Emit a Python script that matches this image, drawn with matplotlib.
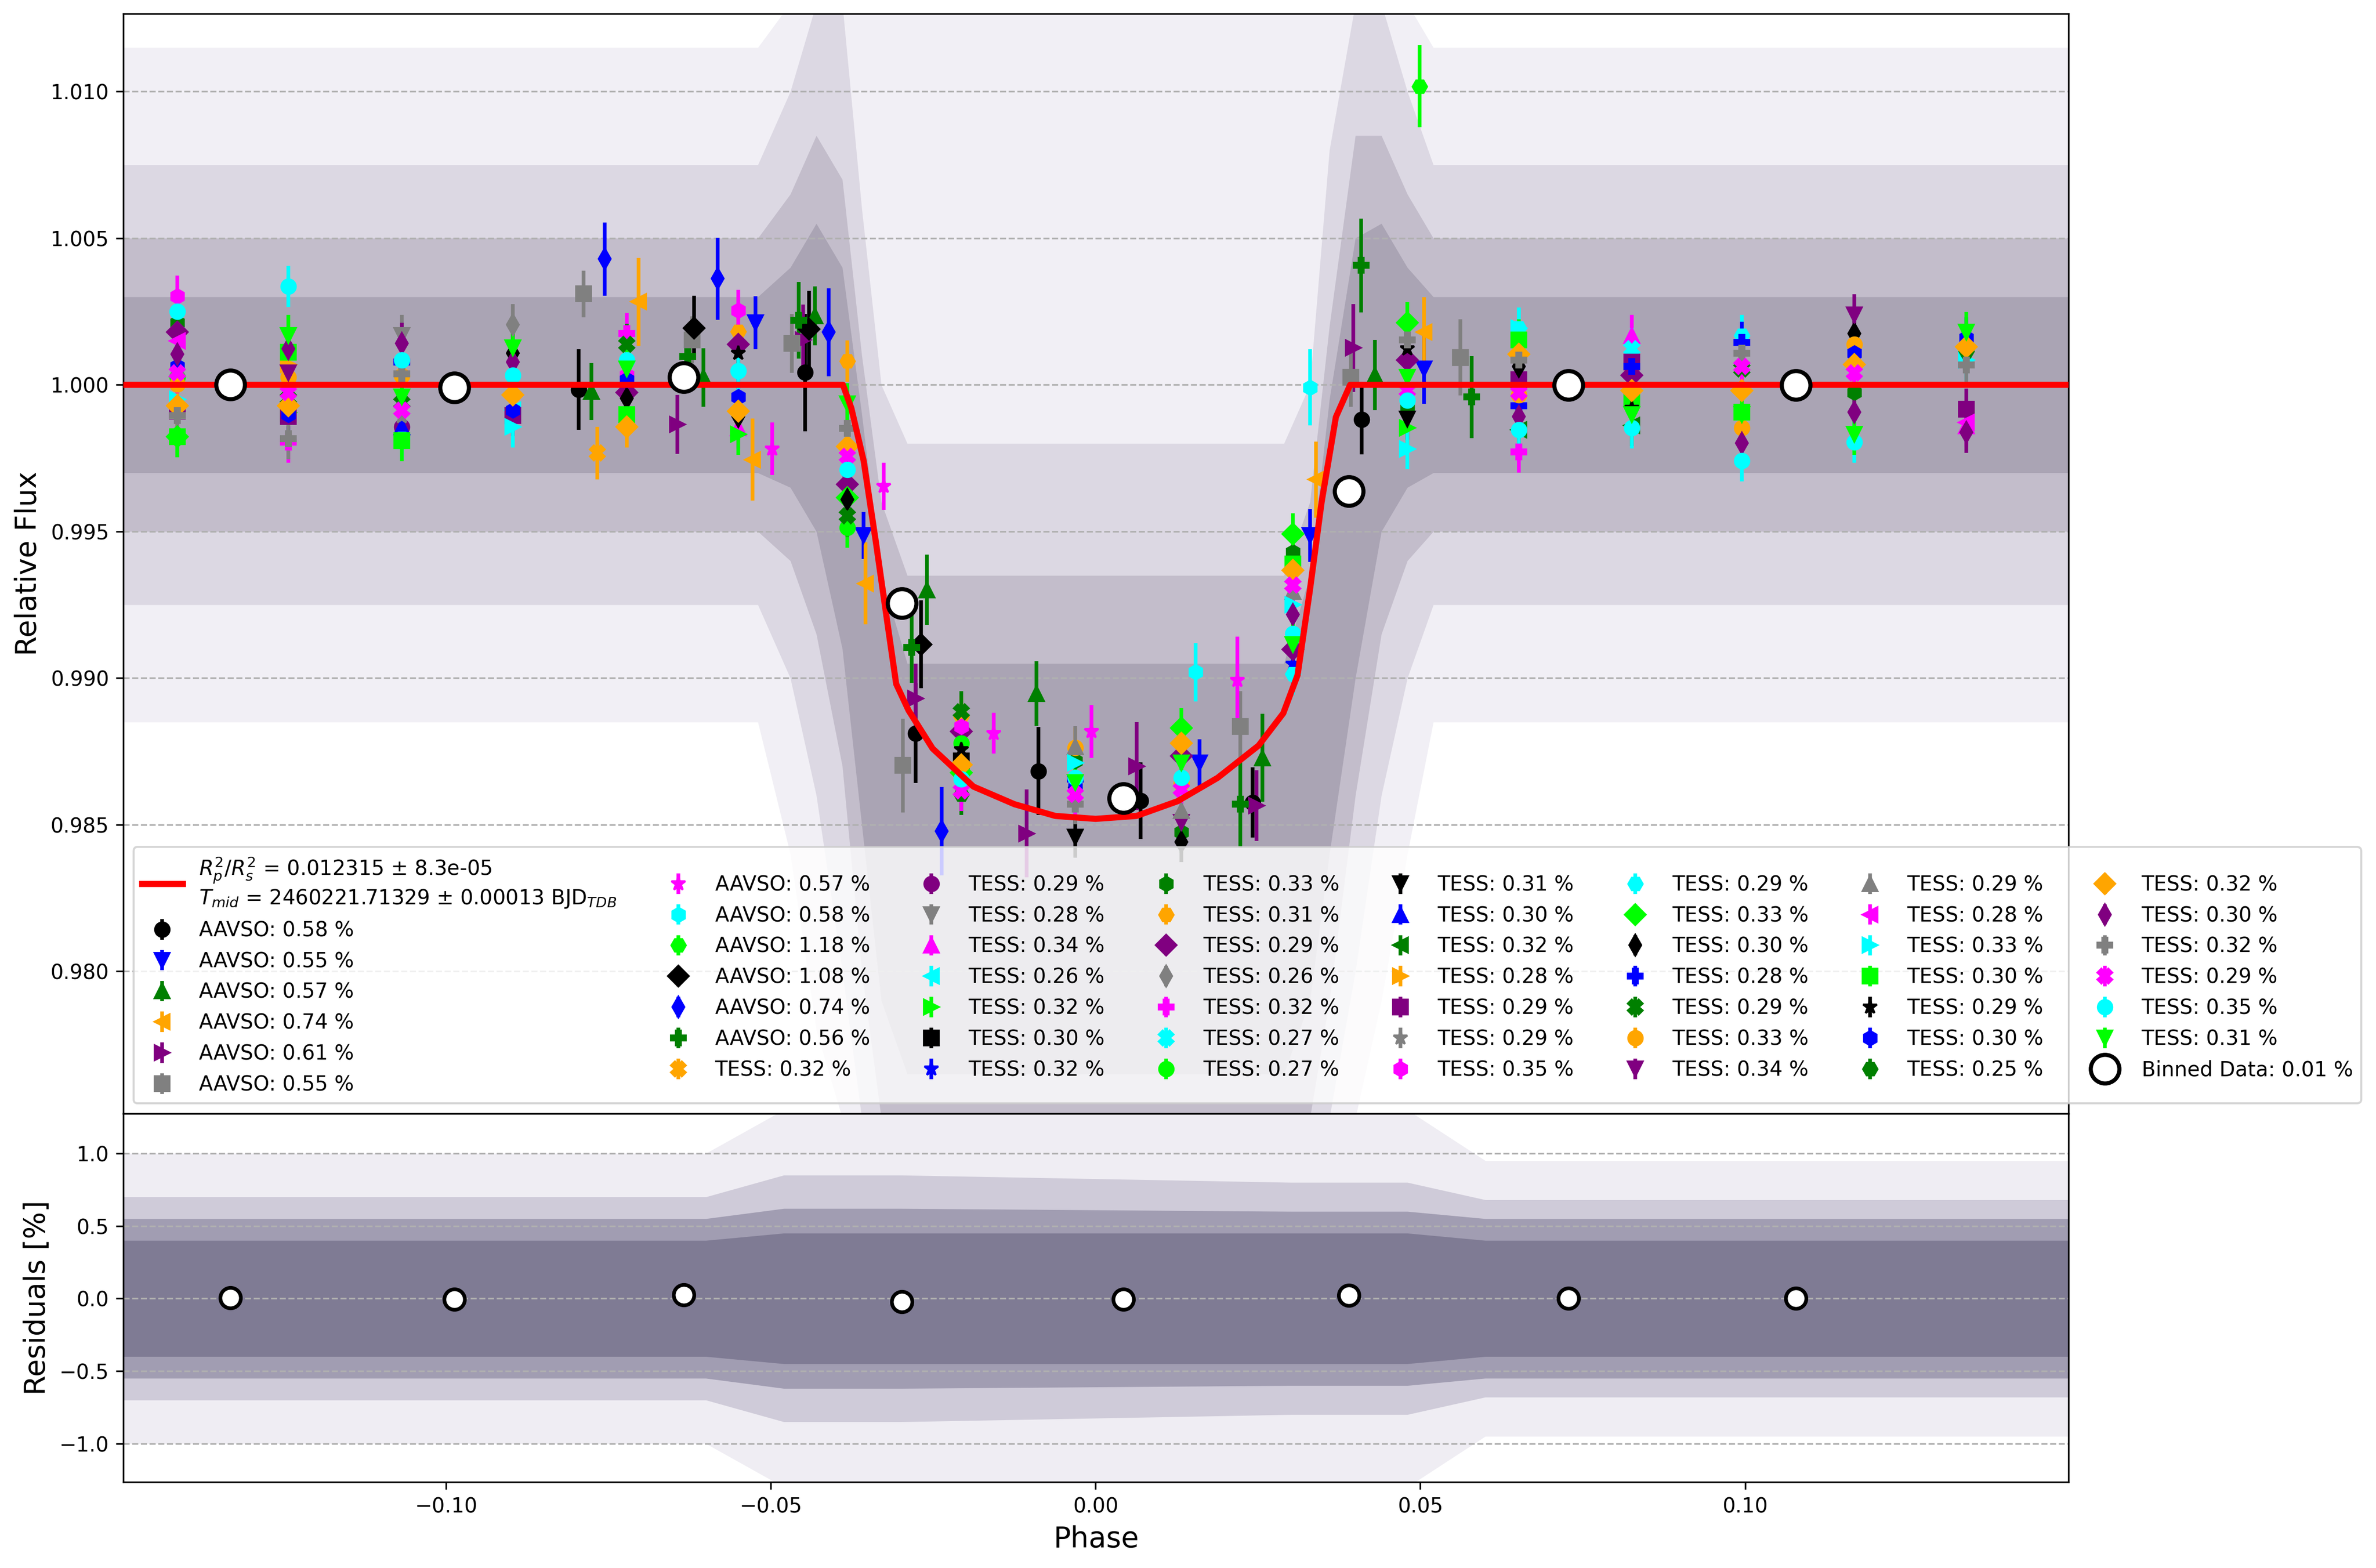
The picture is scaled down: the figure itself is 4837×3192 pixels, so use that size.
import matplotlib
matplotlib.use("Agg")
import matplotlib.pyplot as plt
from matplotlib.ticker import FormatStrFormatter, MultipleLocator

# ---------------- data ----------------
COLORS = ['black', 'blue', 'green', 'orange', 'purple', 'grey', 'magenta', 'cyan', 'lime']
MARKERS = ['o', 'v', '^', '<', '>', 's', '*', 'h', 'H', 'D', 'd', 'P', 'X']

DATASET_LABELS = [
    "AAVSO: 0.58 %", "AAVSO: 0.55 %", "AAVSO: 0.57 %", "AAVSO: 0.74 %", "AAVSO: 0.61 %", "AAVSO: 0.55 %",
    "AAVSO: 0.57 %", "AAVSO: 0.58 %", "AAVSO: 1.18 %", "AAVSO: 1.08 %", "AAVSO: 0.74 %", "AAVSO: 0.56 %",
    "TESS: 0.32 %",
    "TESS: 0.29 %", "TESS: 0.28 %", "TESS: 0.34 %", "TESS: 0.26 %", "TESS: 0.32 %", "TESS: 0.30 %", "TESS: 0.32 %",
    "TESS: 0.33 %", "TESS: 0.31 %", "TESS: 0.29 %", "TESS: 0.26 %", "TESS: 0.32 %", "TESS: 0.27 %", "TESS: 0.27 %",
    "TESS: 0.31 %", "TESS: 0.30 %", "TESS: 0.32 %", "TESS: 0.28 %", "TESS: 0.29 %", "TESS: 0.29 %", "TESS: 0.35 %",
    "TESS: 0.29 %", "TESS: 0.33 %", "TESS: 0.30 %", "TESS: 0.28 %", "TESS: 0.29 %", "TESS: 0.33 %", "TESS: 0.34 %",
    "TESS: 0.29 %", "TESS: 0.28 %", "TESS: 0.33 %", "TESS: 0.30 %", "TESS: 0.29 %", "TESS: 0.30 %", "TESS: 0.25 %",
    "TESS: 0.32 %", "TESS: 0.30 %", "TESS: 0.32 %", "TESS: 0.29 %", "TESS: 0.35 %", "TESS: 0.31 %",
]

MODEL_LABEL = ("$R^{2}_{p}/R^{2}_{s}$ = 0.012315 ± 8.3e-05\n"
               "$T_{mid}$ = 2460221.71329 ± 0.00013 BJD$_{TDB}$")
BINNED_LABEL = "Binned Data: 0.01 %"

# transit model
MODEL_PHASE = [-0.1497, -0.0389, -0.0376, -0.0357, -0.0338, -0.0320, -0.0307, -0.0288, -0.0251,
               -0.0188, -0.0125, -0.0062, 0.0000, 0.0063, 0.0126, 0.0188, 0.0251, 0.0289,
               0.0311, 0.0330, 0.0348, 0.0370, 0.0392, 0.1498]
MODEL_FLUX = [1.0000, 1.0000, 0.9992, 0.9974, 0.9946, 0.9918, 0.9898, 0.9889, 0.9876,
              0.9863, 0.9857, 0.9853, 0.9852, 0.9853, 0.9858, 0.9866, 0.9877, 0.9888,
              0.9901, 0.9930, 0.9960, 0.9989, 1.0000, 1.0000]

# overall binned data (white circles)
BIN_PHASE = [-0.1332, -0.0987, -0.0634, -0.0298, 0.0043, 0.0390, 0.0728, 0.1078]
BIN_FLUX = [1.0000, 0.9999, 1.00025, 0.99256, 0.98590, 0.99637, 0.99999, 0.99999]
BIN_RESID = [0.006, -0.006, 0.024, -0.022, -0.006, 0.022, 0.001, 0.001]

# per-dataset binned TESS points: phase of each bin cluster, then (dataset, flux)
TESS_BIN_PHASE = [-0.1414, -0.1243, -0.1068, -0.0897, -0.0722, -0.0550, -0.0382, -0.0207, -0.0031,
                  0.0132, 0.0304, 0.0480, 0.0652, 0.0826, 0.0995, 0.1168, 0.1341]
TESS_BIN_POINTS = [
    [(33, 1.00302), (52, 1.00250), (20, 1.00212), (22, 1.00179), (42, 1.00149), (49, 1.00104), (46, 1.00063),
     (41, 1.00055), (51, 1.00040), (26, 1.00025), (39, 1.00003), (43, 0.99951), (48, 0.99928), (31, 0.99910),
     (50, 0.99895), (44, 0.99823), (35, 0.99823)],
    [(52, 1.00336), (53, 1.00168), (49, 1.00123), (44, 1.00111), (30, 1.00070), (40, 1.00040), (39, 1.00025),
     (51, 0.99973), (38, 0.99954), (48, 0.99928), (17, 0.99905), (46, 0.99898), (31, 0.99891), (50, 0.99816),
     (24, 0.99805)],
    [(14, 1.00168), (49, 1.00141), (52, 1.00085), (37, 1.00078), (50, 1.00037), (39, 1.00030), (53, 0.99958),
     (38, 0.99939), (51, 0.99913), (32, 0.99891), (28, 0.99857), (13, 0.99857), (34, 0.99816), (44, 0.99809)],
    [(23, 1.00205), (53, 1.00126), (36, 1.00108), (49, 1.00078), (52, 1.00033), (48, 0.99966), (16, 0.99913),
     (46, 0.99913), (31, 0.99895), (43, 0.99857)],
    [(24, 1.00175), (38, 1.00138), (52, 1.00085), (34, 1.00078), (53, 1.00055), (33, 1.00033), (46, 1.00018),
     (22, 0.99973), (36, 0.99954), (44, 0.99898), (48, 0.99857)],
    [(33, 1.00254), (21, 1.00182), (22, 1.00138), (45, 1.00108), (52, 1.00048), (46, 0.99958), (48, 0.99910),
     (36, 0.99891), (15, 0.99853), (17, 0.99831)],
    [(21, 1.00081), (53, 0.99935), (50, 0.99851), (48, 0.99789), (51, 0.99756), (52, 0.99710), (49, 0.99700),
     (22, 0.99660), (35, 0.99615), (36, 0.99609), (38, 0.99553), (26, 0.99514)],
    [(38, 0.98885), (21, 0.98868), (33, 0.98835), (22, 0.98818), (26, 0.98778), (45, 0.98756), (18, 0.98717),
     (48, 0.98705), (35, 0.98677), (52, 0.98655), (51, 0.98616), (47, 0.98604)],
    [(41, 0.98767), (39, 0.98762), (20, 0.98717), (43, 0.98711), (52, 0.98661), (37, 0.98655), (53, 0.98644),
     (46, 0.98627), (45, 0.98620), (51, 0.98604), (50, 0.98571), (27, 0.98458)],
    [(35, 0.98829), (48, 0.98778), (22, 0.98734), (53, 0.98711), (52, 0.98661), (39, 0.98640), (51, 0.98621),
     (41, 0.98548), (40, 0.98509), (20, 0.98475), (36, 0.98442)],
    [(35, 0.99491), (20, 0.99430), (44, 0.99390), (21, 0.99374), (48, 0.99368), (51, 0.99317), (41, 0.99295),
     (43, 0.99250), (49, 0.99216), (52, 0.99151), (53, 0.99115), (22, 0.99098), (19, 0.99048), (34, 0.99014)],
    [(35, 1.00212), (50, 1.00153), (45, 1.00123), (22, 1.00085), (53, 1.00025), (51, 0.99981), (52, 0.99947),
     (20, 0.99921), (27, 0.99883), (17, 0.99853), (43, 0.99782)],
    [(34, 1.00194), (43, 1.00194), (44, 1.00153), (48, 1.00104), (50, 1.00085), (36, 1.00063), (31, 1.00018),
     (51, 0.99973), (39, 0.99966), (37, 0.99928), (49, 0.99891), (52, 0.99846), (29, 0.99846), (24, 0.99771)],
    [(15, 1.00168), (25, 1.00123), (31, 1.00078), (37, 1.00063), (22, 1.00033), (48, 0.99981), (44, 0.99951),
     (45, 0.99921), (53, 0.99898), (29, 0.99861), (52, 0.99853)],
    [(34, 1.00168), (37, 1.00145), (50, 1.00108), (51, 1.00063), (38, 1.00055), (48, 0.99981), (44, 0.99906),
     (53, 0.99898), (39, 0.99853), (49, 0.99801), (52, 0.99741)],
    [(40, 1.00239), (36, 1.00175), (39, 1.00138), (46, 1.00108), (48, 1.00070), (51, 1.00040), (20, 0.99973),
     (49, 0.99906), (53, 0.99831), (52, 0.99805)],
    [(53, 1.00179), (46, 1.00160), (48, 1.00130), (47, 1.00115), (43, 1.00085), (50, 1.00067), (31, 0.99917),
     (42, 0.99872), (15, 0.99860), (49, 0.99838)],
]
TESS_BIN_ERR = 0.0007

# per-dataset binned AAVSO points: (dataset, phase, flux, error)
AAVSO_POINTS = [
    (0, -0.0796, 0.99984, 0.00137), (2, -0.0776, 0.99977, 0.00097), (12, -0.0767, 0.99767, 0.0009),
    (5, -0.0788, 1.00310, 0.0008), (10, -0.0756, 1.00429, 0.00125), (3, -0.0704, 1.00283, 0.0015),
    (9, -0.0618, 1.00194, 0.0011), (5, -0.0621, 1.00153, 0.0008), (4, -0.0644, 0.99865, 0.0010),
    (2, -0.0604, 1.00025, 0.0010), (11, -0.0628, 1.00096, 0.0010), (10, -0.0582, 1.00362, 0.0014),
    (1, -0.0524, 1.00212, 0.0009), (3, -0.0528, 0.99745, 0.0014), (6, -0.0498, 0.99782, 0.0009),
    (11, -0.0457, 1.00220, 0.0013), (2, -0.0432, 1.00235, 0.0010), (9, -0.0441, 1.00190, 0.0013),
    (5, -0.0468, 1.00141, 0.0010), (4, -0.0450, 1.00153, 0.0012), (0, -0.0447, 1.00042, 0.0020),
    (10, -0.0411, 1.00179, 0.0015), (1, -0.0357, 0.99486, 0.0008), (3, -0.0354, 0.99323, 0.0014),
    (6, -0.0326, 0.99654, 0.0008), (11, -0.0283, 0.99104, 0.0012), (9, -0.0269, 0.99115, 0.0015),
    (2, -0.0260, 0.99301, 0.0012), (0, -0.0277, 0.98812, 0.0017), (4, -0.0277, 0.98930, 0.0012),
    (5, -0.0297, 0.98702, 0.0016), (10, -0.0237, 0.98478, 0.0015), (6, -0.0157, 0.98812, 0.0007),
    (2, -0.0091, 0.98947, 0.0011), (0, -0.0088, 0.98683, 0.0015), (4, -0.0106, 0.98470, 0.0015),
    (6, -0.0006, 0.98818, 0.0009), (0, 0.0069, 0.98582, 0.0013), (4, 0.0063, 0.98700, 0.0015),
    (1, 0.0160, 0.98711, 0.0008), (7, 0.0154, 0.99020, 0.0010), (6, 0.0218, 0.98992, 0.0015),
    (5, 0.0223, 0.98835, 0.0012), (11, 0.0223, 0.98571, 0.0015), (2, 0.0257, 0.98728, 0.0015),
    (4, 0.0248, 0.98565, 0.0012), (0, 0.0242, 0.98576, 0.0012), (1, 0.0330, 0.99486, 0.0009),
    (3, 0.0339, 0.99677, 0.0013), (7, 0.0330, 0.99991, 0.0013), (0, 0.0410, 0.99882, 0.0012),
    (4, 0.0397, 1.00126, 0.0015), (2, 0.0430, 1.00033, 0.0012), (5, 0.0393, 1.00025, 0.0010),
    (11, 0.0409, 1.00407, 0.0016), (8, 0.0499, 1.01018, 0.0014), (3, 0.0506, 1.00179, 0.0012),
    (1, 0.0506, 1.00055, 0.0012), (5, 0.0562, 1.00093, 0.0013), (11, 0.0579, 0.99958, 0.0014),
]

# envelopes of the faint unbinned data cloud (upper panel), four density levels
BG_PHASE = [-0.1497, -0.052, -0.047, -0.043, -0.039, -0.036, -0.033, -0.029, 0.029, 0.033, 0.036,
            0.040, 0.044, 0.048, 0.052, 0.1498]
BG_L1_LO = [0.9885, 0.9885, 0.9840, 0.9780, 0.9750, 0.9750, 0.9750, 0.9750, 0.9750, 0.9750, 0.9750,
            0.9750, 0.9790, 0.9840, 0.9885, 0.9885]
BG_L1_HI = [1.0115, 1.0115, 1.0130, 1.0130, 1.0130, 1.0130, 1.0130, 1.0130, 1.0130, 1.0130, 1.0130,
            1.0130, 1.0130, 1.0130, 1.0115, 1.0115]
BG_L2_LO = [0.9925, 0.9925, 0.9900, 0.9860, 0.9800, 0.9750, 0.9750, 0.9750, 0.9750, 0.9750, 0.9750,
            0.9800, 0.9860, 0.9900, 0.9925, 0.9925]
BG_L2_HI = [1.0075, 1.0075, 1.0100, 1.0130, 1.0130, 1.0060, 1.0000, 0.9980, 0.9980, 1.0000, 1.0080,
            1.0130, 1.0130, 1.0100, 1.0075, 1.0075]
BG_L3_LO = [0.9950, 0.9950, 0.9940, 0.9915, 0.9870, 0.9800, 0.9750, 0.9750, 0.9750, 0.9750, 0.9790,
            0.9860, 0.9915, 0.9940, 0.9950, 0.9950]
BG_L3_HI = [1.0050, 1.0050, 1.0065, 1.0085, 1.0070, 1.0010, 0.9960, 0.9935, 0.9935, 0.9960, 1.0020,
            1.0085, 1.0085, 1.0065, 1.0050, 1.0050]
BG_L4_LO = [0.9970, 0.9970, 0.9965, 0.9950, 0.9910, 0.9850, 0.9790, 0.9765, 0.9765, 0.9790, 0.9840,
            0.9900, 0.9950, 0.9965, 0.9970, 0.9970]
BG_L4_HI = [1.0030, 1.0030, 1.0040, 1.0055, 1.0040, 0.9990, 0.9935, 0.9905, 0.9905, 0.9935, 0.9995,
            1.0050, 1.0055, 1.0040, 1.0030, 1.0030]
BG_COLORS = ['#f1eff5', '#dcd8e3', '#c3bdcb', '#aaa4b4']

# envelopes of the residual cloud (lower panel), in %, four density levels (symmetric)
RES_PHASE = [-0.1497, -0.060, -0.048, -0.030, 0.030, 0.048, 0.060, 0.1498]
RES_R1 = [1.00, 1.00, 1.30, 1.30, 1.30, 1.30, 0.95, 0.95]
RES_R2 = [0.70, 0.70, 0.85, 0.85, 0.80, 0.80, 0.68, 0.68]
RES_R3 = [0.55, 0.55, 0.62, 0.62, 0.60, 0.60, 0.55, 0.55]
RES_R4 = [0.40, 0.40, 0.45, 0.45, 0.45, 0.45, 0.40, 0.40]
RES_COLORS = ['#efedf3', '#cfcbd9', '#a19db2', '#7f7b94']

# ---------------- figure ----------------
W, H, DPI = 4837, 3192, 300
fig = plt.figure(figsize=(W / DPI, H / DPI), dpi=DPI)
x0, x1 = 251 / W, 4211 / W
ytop, ysplit, ybot = 1 - 27.5 / H, 1 - 2267 / H, 1 - 3017 / H
ax = fig.add_axes([x0, ysplit, x1 - x0, ytop - ysplit])
axr = fig.add_axes([x0, ybot, x1 - x0, ysplit - ybot], sharex=ax)

# background cloud of unbinned data
bg_levels = [(BG_L1_LO, BG_L1_HI), (BG_L2_LO, BG_L2_HI), (BG_L3_LO, BG_L3_HI), (BG_L4_LO, BG_L4_HI)]
for k, ((lo, hi), col) in enumerate(zip(bg_levels, BG_COLORS)):
    ax.fill_between(BG_PHASE, lo, hi, color=col, lw=0, zorder=0.5 + 0.05 * k)

# gather per-dataset points
ds_ph = [[] for _ in DATASET_LABELS]
ds_fl = [[] for _ in DATASET_LABELS]
ds_er = [[] for _ in DATASET_LABELS]
for ph, pts in zip(TESS_BIN_PHASE, TESS_BIN_POINTS):
    for d, f in pts:
        ds_ph[d].append(ph)
        ds_fl[d].append(f)
        ds_er[d].append(TESS_BIN_ERR)
for d, ph, f, e in AAVSO_POINTS:
    ds_ph[d].append(ph)
    ds_fl[d].append(f)
    ds_er[d].append(e)

handles = []
model_line, = ax.plot(MODEL_PHASE, MODEL_FLUX, color='red', lw=3, zorder=4, label=MODEL_LABEL)
handles.append(model_line)
for i, lab in enumerate(DATASET_LABELS):
    c = COLORS[i % len(COLORS)]
    m = MARKERS[i % len(MARKERS)]
    h = ax.errorbar(ds_ph[i], ds_fl[i], yerr=ds_er[i], fmt=m, color=c, ms=7, elinewidth=1.8,
                    zorder=3, label=lab)
    handles.append(h)
binned, = ax.plot(BIN_PHASE, BIN_FLUX, 'o', ms=14, mfc='white', mec='black', mew=2, zorder=6,
                  label=BINNED_LABEL)
handles.append(binned)

ax.set_xlim(-0.1497, 0.1498)
ax.set_ylim(0.97515, 1.01266)
ax.yaxis.set_major_locator(MultipleLocator(0.005))
ax.yaxis.set_major_formatter(FormatStrFormatter('%.3f'))
ax.grid(axis='y', ls='--', color='#b0b0b0', lw=0.8)
ax.tick_params(labelbottom=False)
ax.set_ylabel('Relative Flux', fontsize=14)
ax.legend(handles=handles, loc='lower left', ncol=8, fontsize=10)

# residual panel
for k, (r, col) in enumerate(zip([RES_R1, RES_R2, RES_R3, RES_R4], RES_COLORS)):
    axr.fill_between(RES_PHASE, [-v for v in r], r, color=col, lw=0, zorder=0.5 + 0.05 * k)
axr.plot(BIN_PHASE, BIN_RESID, 'o', ms=10, mfc='white', mec='black', mew=1.8, zorder=6)
axr.set_ylim(-1.265, 1.274)
axr.yaxis.set_major_locator(MultipleLocator(0.5))
axr.grid(axis='y', ls='--', color='#b0b0b0', lw=0.8)
axr.set_xlabel('Phase', fontsize=14)
axr.set_ylabel('Residuals [%]', fontsize=14)
axr.xaxis.set_major_locator(MultipleLocator(0.05))

fig.savefig('out.png', dpi=DPI)
